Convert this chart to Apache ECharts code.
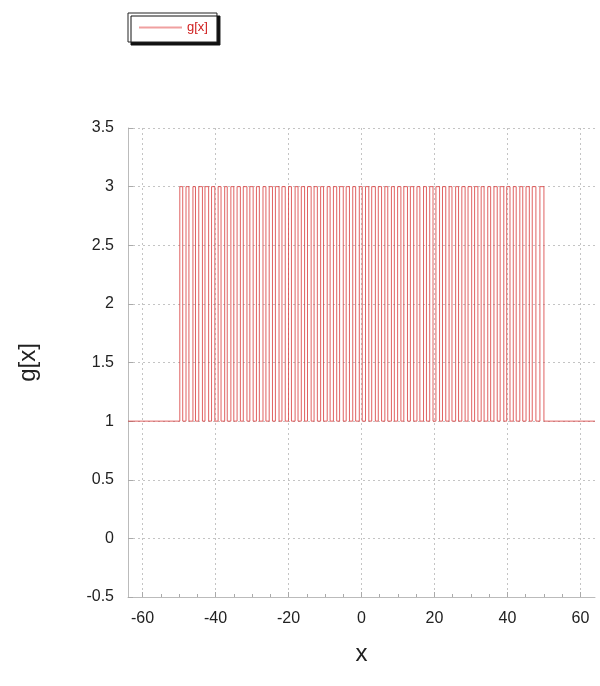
<!DOCTYPE html>
<html>
<head>
<meta charset="utf-8">
<script src="https://cdn.jsdelivr.net/npm/echarts@6/dist/echarts.min.js"></script>
<style>
html,body{margin:0;padding:0;background:#fff;}
#chart{width:600px;height:686px;}
</style>
</head>
<body>
<div id="chart"></div>
<script>
// x ticks and y ticks
const xTickLabels = [-60, -40, -20, 0, 20, 40, 60];
const xMinorTicks = [-60,-55,-50,-45,-40,-35,-30,-25,-20,-15,-10,-5,0,5,10,15,20,25,30,35,40,45,50,55,60];
// step positions of g[x] (value changes at each x)
const edgeX = [-64,
  -49.8, -49.0, -48.1, -47.3, -46.2, -45.5, -44.6, -43.6, -42.9, -41.9,
  -41.1, -40.2, -39.3, -38.5, -37.5, -36.8, -35.8, -35.0, -34.1, -33.2,
  -32.4, -31.4, -30.6, -29.7, -28.8, -28.0, -27.0, -26.2, -25.3, -24.4,
  -23.6, -22.6, -21.8, -20.9, -20.0, -19.2, -18.2, -17.4, -16.5, -15.6,
  -14.8, -13.8, -13.0, -12.1, -11.2, -10.4, -9.4, -8.6, -7.7, -6.8,
  -6.0, -5.0, -4.2, -3.3, -2.4, -1.6, -0.6, 0.2, 1.1, 2.0,
  2.8, 3.8, 4.6, 5.5, 6.4, 7.2, 8.2, 9.0, 9.9, 10.8,
  11.6, 12.6, 13.4, 14.3, 15.2, 16.0, 17.0, 17.8, 18.7, 19.6,
  20.4, 21.4, 22.2, 23.1, 24.0, 24.8, 25.8, 26.6, 27.5, 28.4,
  29.2, 30.2, 31.0, 31.9, 32.8, 33.6, 34.6, 35.4, 36.3, 37.2,
  38.0, 39.0, 39.8, 40.7, 41.6, 42.4, 43.4, 44.2, 45.1, 46.0,
  46.8, 47.8, 48.9, 50.0,
  64];
// g[x] value from each step position onward
const edgeY = [1,
  3,1,3,1,3,1,3,1,3,1,
  3,1,3,1,3,1,3,1,3,1,
  3,1,3,1,3,1,3,1,3,1,
  3,1,3,1,3,1,3,1,3,1,
  3,1,3,1,3,1,3,1,3,1,
  3,1,3,1,3,1,3,1,3,1,
  3,1,3,1,3,1,3,1,3,1,
  3,1,3,1,3,1,3,1,3,1,
  3,1,3,1,3,1,3,1,3,1,
  3,1,3,1,3,1,3,1,3,1,
  3,1,3,1,3,1,3,1,3,1,
  3,1,3,1,
  1];

const data = edgeX.map((x, i) => [x, edgeY[i] !== undefined ? edgeY[i] : 1]);

const chart = echarts.init(document.getElementById('chart'), null, {renderer: 'canvas'});
const FONT = 'Liberation Sans, Arial, sans-serif';
const axisFont = {fontFamily: FONT, fontSize: 16, color: '#222'};
chart.setOption({
  animation: false,
  backgroundColor: '#ffffff',
  legend: {
    data: [{name: 'g[x]', icon: 'rect', itemStyle: {color: '#f0a0a0', borderWidth: 0}}],
    left: 128, top: 13,
    orient: 'horizontal',
    padding: [8, 9, 8, 11],
    itemWidth: 43, itemHeight: 2,
    backgroundColor: '#fff',
    borderColor: '#222', borderWidth: 1, borderRadius: 0,
    shadowColor: '#111', shadowBlur: 0, shadowOffsetX: 3, shadowOffsetY: 3,
    textStyle: {color: '#d02020', fontSize: 13, fontFamily: FONT}
  },
  grid: {left: 128, right: 5, top: 128, bottom: 89, containLabel: false},
  xAxis: [{
    type: 'value', min: -64, max: 64,
    name: 'x', nameLocation: 'middle', nameGap: 45,
    nameTextStyle: {fontFamily: FONT, fontSize: 24, color: '#222'},
    axisLine: {show: true, onZero: false, lineStyle: {color: '#bbb', width: 1}},
    axisTick: {show: true, inside: true, length: 5, customValues: xTickLabels, lineStyle: {color: '#aaa'}},
    axisLabel: Object.assign({margin: 14, customValues: xTickLabels}, axisFont),
    splitLine: {show: true, lineStyle: {color: '#c4c4c4', type: [2, 3], width: 1}}
  }, {
    type: 'value', min: -64, max: 64, position: 'bottom',
    axisLine: {show: false, onZero: false},
    axisTick: {show: true, inside: true, length: 3, customValues: xMinorTicks, lineStyle: {color: '#aaa'}},
    axisLabel: {show: false},
    splitLine: {show: false}
  }],
  yAxis: {
    type: 'value', min: -0.5, max: 3.5, interval: 0.5,
    name: 'g[x]', nameLocation: 'middle', nameGap: 88, nameRotate: 90,
    nameTextStyle: {fontFamily: FONT, fontSize: 24, color: '#222'},
    axisLine: {show: true, onZero: false, lineStyle: {color: '#bbb', width: 1}},
    axisTick: {show: true, inside: true, length: 5, lineStyle: {color: '#aaa'}},
    axisLabel: Object.assign({margin: 14}, axisFont),
    splitLine: {show: true, lineStyle: {color: '#c4c4c4', type: [2, 3], width: 1}}
  },
  series: [{
    name: 'g[x]', type: 'line', step: 'end',
    xAxisIndex: 0,
    symbol: 'none', showSymbol: false,
    data: data,
    lineStyle: {color: '#d83a3a', width: 0.8},
    itemStyle: {color: '#e07a7a'}
  }]
});
</script>
</body>
</html>
